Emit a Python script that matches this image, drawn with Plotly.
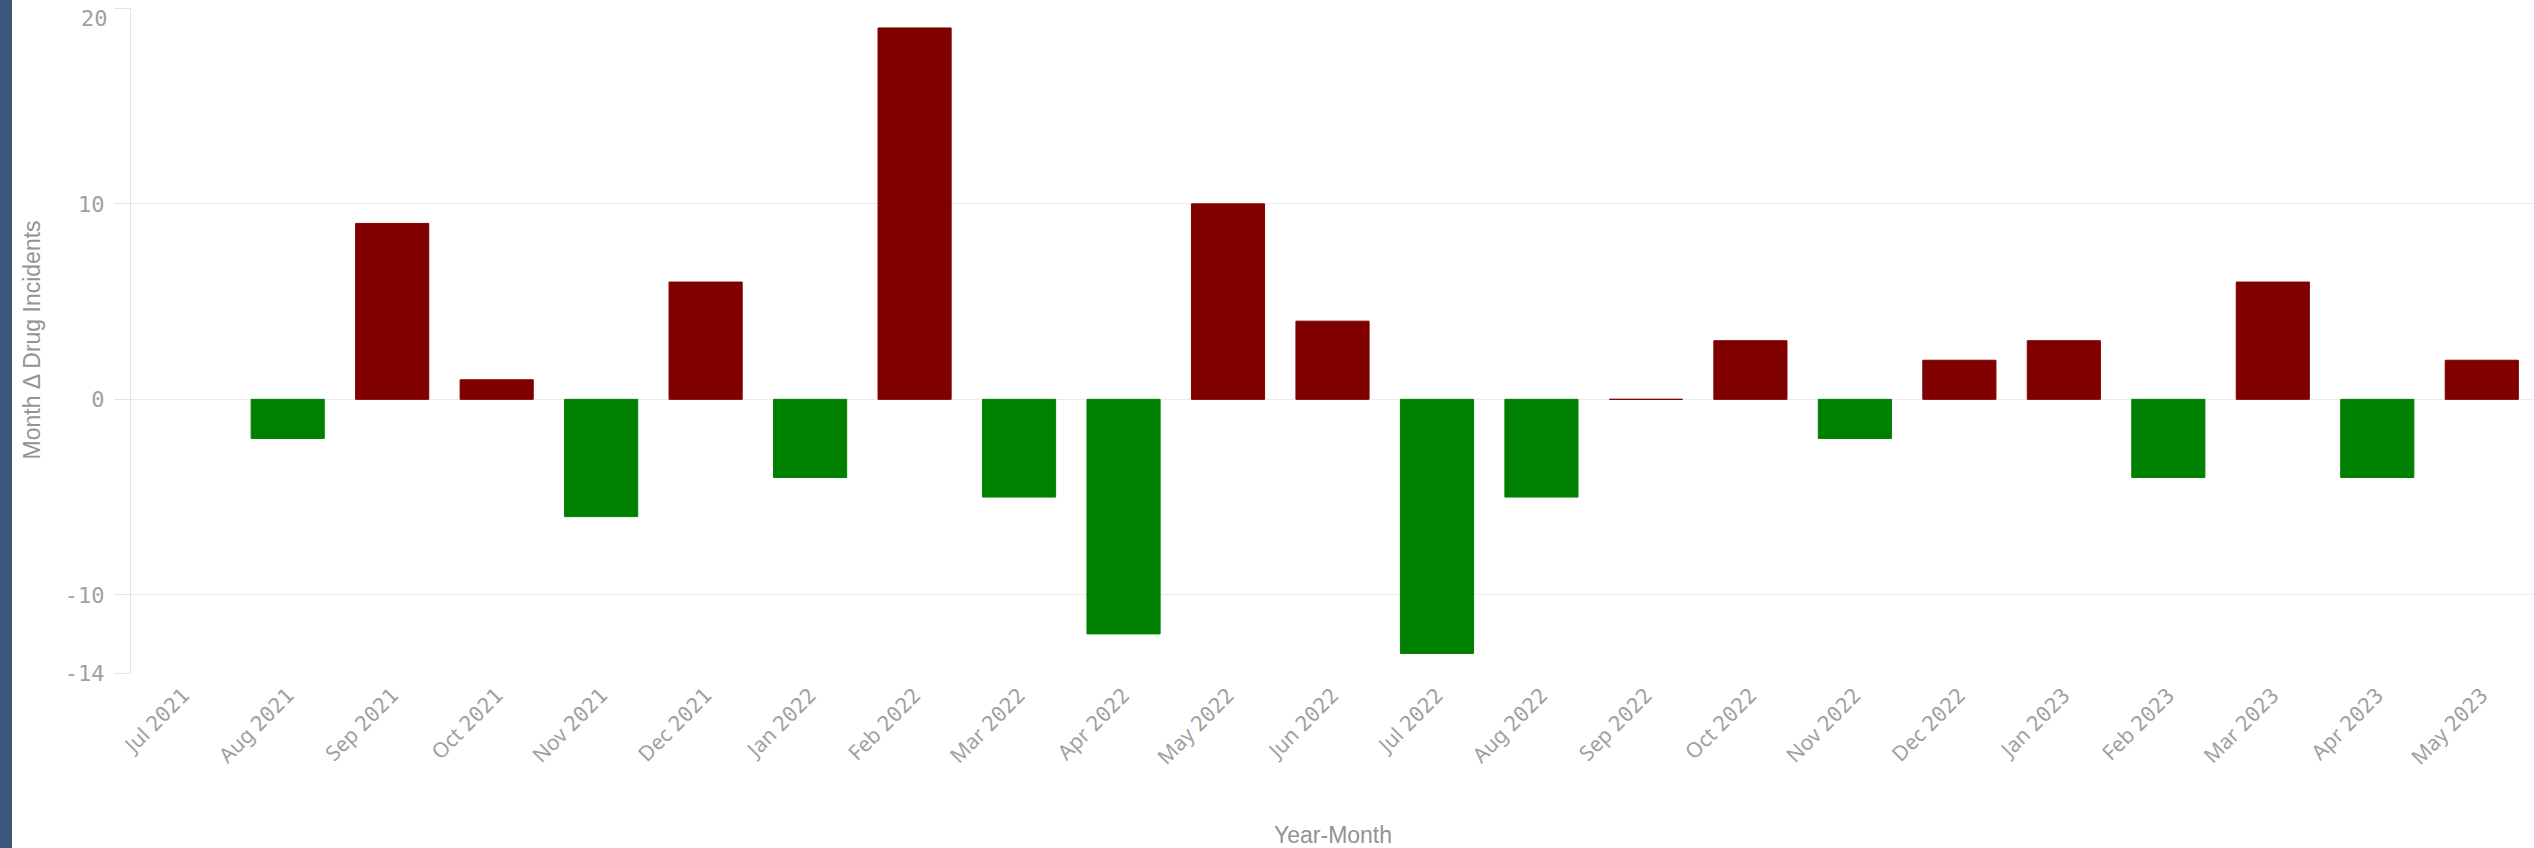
import plotly.graph_objects as go

months = ["Jul 2021", "Aug 2021", "Sep 2021", "Oct 2021", "Nov 2021", "Dec 2021",
          "Jan 2022", "Feb 2022", "Mar 2022", "Apr 2022", "May 2022", "Jun 2022",
          "Jul 2022", "Aug 2022", "Sep 2022", "Oct 2022", "Nov 2022", "Dec 2022",
          "Jan 2023", "Feb 2023", "Mar 2023", "Apr 2023", "May 2023"]
delta = [None, -2, 9, 1, -6, 6, -4, 19, -5, -12, 10, 4, -13, -5, 0, 3, -2, 2, 3, -4, 6, -4, 2]
y_ticks = [-14, -10, 0, 10, 20]

RED = "#800000"
GREEN = "#008000"
colors = [GREEN if (v is not None and v < 0) else RED for v in delta]

W, H = 2534, 848
ML, MR, MT, MB = 131, 0, 8, 175
PW, PH = W - ML - MR, H - MT - MB

MONO = "DejaVu Sans Mono"
SANS = "Liberation Sans Narrow, Liberation Sans, sans-serif"
TICK_C = "#a0a0a0"
TITLE_C = "#939393"

# month names in sans, years in mono (slashed-zero look of the original)
def tick_label(m):
    mon, yr = m.split(" ")
    return f"<span style='font-family:Noto Sans'>{mon} </span>{yr}"

fig = go.Figure(go.Bar(
    x=months, y=delta,
    marker=dict(color=colors, line=dict(color=colors, width=1)),
    hoverinfo="x+y",
))

ytext = ["" if v == y_ticks[-1] else str(v) for v in y_ticks]

fig.update_layout(
    width=W, height=H,
    margin=dict(l=ML, r=MR, t=MT, b=MB, pad=0),
    paper_bgcolor="white", plot_bgcolor="white",
    bargap=0.3,
    showlegend=False,
    font=dict(family=MONO, color=TICK_C, size=16),
    xaxis=dict(
        tickmode="array",
        tickvals=months,
        ticktext=[tick_label(m) for m in months],
        tickangle=-45,
        showgrid=False,
        showline=False,
        ticks="",
        ticklabelstandoff=5,
        tickfont=dict(family=MONO, size=21, color=TICK_C),
        automargin=False,
    ),
    yaxis=dict(
        range=[-14, 20.02],
        tickvals=y_ticks,
        ticktext=ytext,
        showgrid=True, gridcolor="#ececec", gridwidth=1,
        zeroline=True, zerolinecolor="#ececec", zerolinewidth=1,
        showline=True, linecolor="#e4e4e4", linewidth=1,
        ticks="outside", ticklen=16, tickcolor="#e4e4e4",
        ticklabelstandoff=5,
        tickfont=dict(family=MONO, size=22, color=TICK_C),
        automargin=False,
    ),
    annotations=[
        # top tick label sits just below its gridline, as in the original
        dict(text=str(y_ticks[-1]), xref="paper", yref="y", x=-(ML - 110) / PW, y=y_ticks[-1],
             xanchor="right", yanchor="top", yshift=4, showarrow=False,
             font=dict(family=MONO, size=22, color=TICK_C)),
        dict(text="Month \u0394 Drug Incidents", xref="paper", yref="paper",
             x=-(ML - 31) / PW, y=0.5, textangle=-90, showarrow=False,
             xanchor="center", yanchor="middle",
             font=dict(family=SANS, size=23, color=TITLE_C)),
        dict(text="Year-Month", xref="paper", yref="paper",
             x=0.5, y=-(835 - MT - PH) / PH, showarrow=False,
             xanchor="center", yanchor="middle",
             font=dict(family=SANS, size=23, color=TITLE_C)),
    ],
)

# dark blue strip at the left edge of the page
fig.add_shape(type="rect", xref="paper", yref="paper",
              x0=-ML / PW, x1=(12 - ML) / PW,
              y0=-MB / PH, y1=1 + MT / PH,
              fillcolor="#3b5678", line=dict(width=0), layer="above")

fig.write_html("out.html",
               config={"displayModeBar": False},
               post_script="document.body.style.margin='0';document.body.style.overflow='hidden';")
